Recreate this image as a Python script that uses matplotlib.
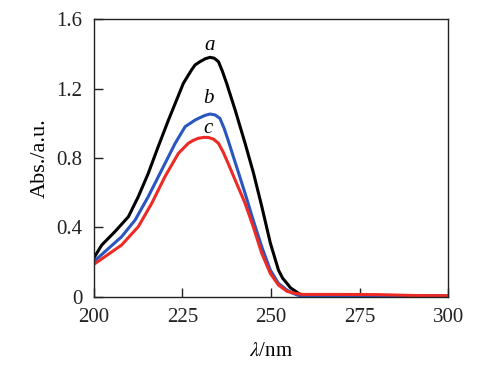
import matplotlib
matplotlib.use('Agg')
import matplotlib.pyplot as plt

plt.rcParams['font.family'] = ['Liberation Serif', 'DejaVu Serif']
plt.rcParams['mathtext.fontset'] = 'stix'

# curve a (black)
wl_a = [200, 202.3, 206, 209.8, 212.6, 215.4, 218.2, 221.1, 223.4, 225.3, 227.6, 228.6,
        230, 231.5, 232.8, 234, 235.2, 236.3, 237.5, 239.9, 242.7, 245.1, 247.4, 249.8,
        252.1, 253.3, 254.5, 255.5, 256.8, 258, 259.5, 265, 300]
abs_a = [0.22, 0.297, 0.374, 0.46, 0.576, 0.71, 0.864, 1.018, 1.134, 1.23, 1.307, 1.336,
         1.355, 1.372, 1.38, 1.375, 1.355, 1.30, 1.23, 1.076, 0.884, 0.71, 0.52, 0.31,
         0.153, 0.105, 0.076, 0.05, 0.032, 0.015, 0.005, 0.003, 0.003]

# curve b (blue)
wl_b = [200, 203.2, 207.9, 211.7, 215.4, 219.2, 223, 225.8, 228.6, 230, 231.4, 232.8,
        234.2, 235.6, 236.8, 237.9, 240.3, 242.7, 245.0, 247.4, 249.8, 252.1, 254.5,
        256, 257.5, 259, 300]
abs_b = [0.20, 0.259, 0.345, 0.441, 0.576, 0.73, 0.884, 0.98, 1.018, 1.032, 1.045, 1.053,
         1.048, 1.028, 0.97, 0.903, 0.749, 0.595, 0.44, 0.287, 0.153, 0.076, 0.037,
         0.02, 0.008, 0.003, 0.002]

# curve c (red)
wl_c = [200, 203.2, 207.9, 212.6, 216.4, 220.1, 223.9, 226.7, 228, 229.5, 231, 232.3,
        233.8, 235.2, 236.6, 237.9, 240.3, 242.7, 245.0, 247.4, 249.8, 252.1, 254.5,
        256.8, 259, 270, 280, 290, 300]
abs_c = [0.185, 0.23, 0.297, 0.403, 0.538, 0.691, 0.826, 0.884, 0.90, 0.913, 0.918, 0.918,
         0.908, 0.884, 0.83, 0.769, 0.653, 0.538, 0.403, 0.249, 0.134, 0.066, 0.03,
         0.018, 0.012, 0.012, 0.011, 0.006, 0.004]

xticks = [200, 225, 250, 275, 300]
yticks = [0, 0.4, 0.8, 1.2, 1.6]
ytick_labels = ['0', '0.4', '0.8', '1.2', '1.6']

fig = plt.figure(figsize=(4.91, 3.75), dpi=100)
ax = fig.add_axes([0.1906, 0.2093, 0.9132 - 0.1906, 0.9488 - 0.2093])

ax.plot(wl_a, abs_a, color='black', lw=2.2, solid_joinstyle='round')
ax.plot(wl_b, abs_b, color='#2a56c0', lw=2.2, solid_joinstyle='round')
ax.plot(wl_c, abs_c, color='#ee2a24', lw=2.2, solid_joinstyle='round')

ax.text(232.8, 1.45, 'a', style='italic', fontsize=15, ha='center', va='center')
ax.text(232.5, 1.14, 'b', style='italic', fontsize=15, ha='center', va='center')
ax.text(232.2, 0.97, 'c', style='italic', fontsize=15, ha='center', va='center')

ax.set_xlim(200, 300)
ax.set_ylim(0, 1.6)
ax.set_xticks(xticks)
ax.set_yticks(yticks)
ax.set_yticklabels(ytick_labels)
ax.tick_params(direction='in', length=6.5, width=1.0, labelsize=15, pad=8, colors='#222222')
for s in ax.spines.values():
    s.set_linewidth(1.0)
    s.set_color('#222222')

ax.set_xlabel(r'$\lambda$/nm', fontsize=15, labelpad=11)
ax.set_ylabel('Abs./a.u.', fontsize=16, labelpad=5)

fig.savefig('out.png', dpi=100)
